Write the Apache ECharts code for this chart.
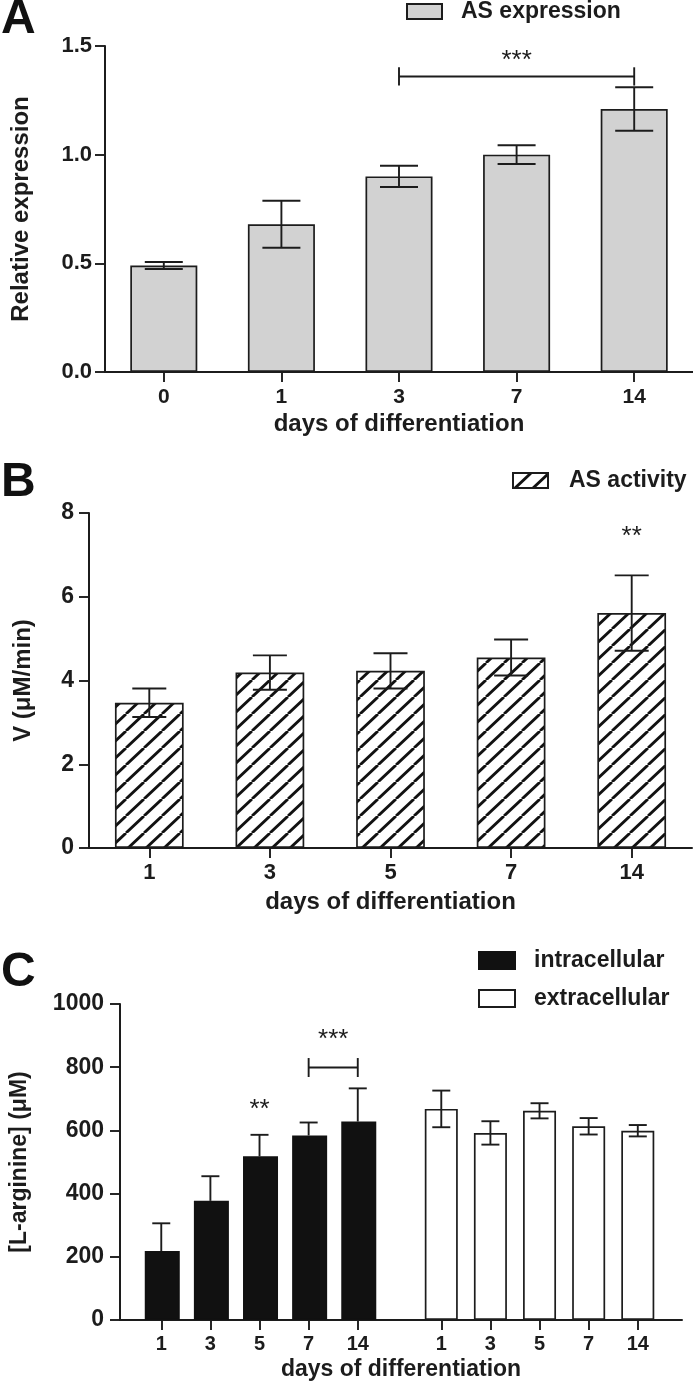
<!DOCTYPE html>
<html><head><meta charset="utf-8">
<script src="https://cdn.jsdelivr.net/npm/echarts@6/dist/echarts.min.js"></script>
<style>html,body{margin:0;padding:0;background:#fff}#c{width:693px;height:1382px}</style>
</head><body><div id="c"></div>
<script>
// ---------- Panel A: AS expression ----------
const daysA = ['0', '1', '3', '7', '14'];
const asExpression = [0.49, 0.68, 0.90, 1.00, 1.21];
const asExpressionErr = [0.016, 0.108, 0.049, 0.043, 0.100];
const sigA = [{ from: 2, to: 4, y: 1.36, tick: 0.042, text: '***', textY: 1.43 }];

// ---------- Panel B: AS activity ----------
const daysB = ['1', '3', '5', '7', '14'];
const asActivity = [3.47, 4.19, 4.23, 4.55, 5.61];
const asActivityErr = [0.34, 0.41, 0.42, 0.43, 0.90];
const sigB = [{ from: 4, to: 4, text: '**', textY: 7.42 }];

// ---------- Panel C: L-arginine ----------
const daysC = ['1', '3', '5', '7', '14'];
const intracellular = [218, 377, 518, 584, 628];
const intracellularErr = [88, 78, 68, 41, 105];
const extracellular = [668, 592, 662, 613, 599];
const extracellularErr = [58, 37, 24, 26, 18];

// layout of the two groups on panel C's x axis (one unit = one bar slot)
const C_START = [0.84, 6.54];
const C_MAX = 11.44;
const posC = (g, i) => C_START[g] + i;
const posIntra = daysC.map((d, i) => posC(0, i));
const posExtra = daysC.map((d, i) => posC(1, i));
const allPosC = posIntra.concat(posExtra);
const sigC = [
  { from: posIntra[2], to: posIntra[2], text: '**', textY: 666 },
  { from: posIntra[3], to: posIntra[4], y: 799, tick: 30, text: '***', textY: 887 }
];

const FONT = "'Liberation Sans', Arial, sans-serif";
const INK = '#1c1c1c';

function hatch() {
  const w = 18, h = 17;
  const c = document.createElement('canvas'); c.width = w; c.height = h;
  const g = c.getContext('2d');
  g.fillStyle = '#fff'; g.fillRect(0, 0, w, h);
  g.strokeStyle = '#111'; g.lineWidth = 2.8;
  for (const dx of [-w, 0, w]) { g.beginPath(); g.moveTo(dx, h); g.lineTo(dx + w, 0); g.stroke(); }
  return c;
}

function errorBar(cap, upOnly) {
  return function (params, api) {
    const x = api.value(0), m = api.value(1), e = api.value(2);
    const hi = api.coord([x, m + e]);
    const lo = api.coord([x, upOnly ? m : m - e]);
    const style = { stroke: INK, lineWidth: 1.9 };
    const ch = [
      { type: 'line', shape: { x1: hi[0], y1: hi[1], x2: lo[0], y2: lo[1] }, style },
      { type: 'line', shape: { x1: hi[0] - cap, y1: hi[1], x2: hi[0] + cap, y2: hi[1] }, style }
    ];
    if (!upOnly) ch.push({ type: 'line', shape: { x1: lo[0] - cap, y1: lo[1], x2: lo[0] + cap, y2: lo[1] }, style });
    return { type: 'group', children: ch };
  };
}

function sigRender(list) {
  return function (params, api) {
    const s = list[params.dataIndex];
    const children = [];
    const style = { stroke: INK, lineWidth: 1.9 };
    if (s.from !== s.to) {
      const a = api.coord([s.from, s.y]), b = api.coord([s.to, s.y]);
      const up = api.coord([s.from, s.y + s.tick])[1], dn = api.coord([s.from, s.y - s.tick])[1];
      children.push({ type: 'line', shape: { x1: a[0], y1: a[1], x2: b[0], y2: b[1] }, style });
      children.push({ type: 'line', shape: { x1: a[0], y1: up, x2: a[0], y2: dn }, style });
      children.push({ type: 'line', shape: { x1: b[0], y1: up, x2: b[0], y2: dn }, style });
    }
    const t = api.coord([(s.from + s.to) / 2, s.textY]);
    children.push({ type: 'text', style: { text: s.text, x: t[0], y: t[1], textAlign: 'center', textVerticalAlign: 'middle', font: '26px ' + FONT, fill: INK } });
    return { type: 'group', children };
  };
}

const axisLine = { show: true, lineStyle: { color: INK, width: 2 } };
const axisTick = { show: true, length: 10, lineStyle: { color: INK, width: 1.9 } };
const tickLabel = (size) => ({ color: INK, fontWeight: 'bold', fontSize: size, fontFamily: FONT });
const nameStyle = (size) => ({ color: INK, fontWeight: 'bold', fontSize: size, fontFamily: FONT });

const chart = echarts.init(document.getElementById('c'), null, { renderer: 'canvas' });
chart.setOption({
  backgroundColor: '#fff',
  animation: false,
  graphic: [
    { type: 'text', left: 1, top: -4, style: { text: 'A', font: 'bold 48px ' + FONT, fill: '#111' } },
    { type: 'text', left: 1, top: 459, style: { text: 'B', font: 'bold 48px ' + FONT, fill: '#111' } },
    { type: 'text', left: 1, top: 949, style: { text: 'C', font: 'bold 48px ' + FONT, fill: '#111' } }
  ],
  legend: [
    { data: ['AS expression'], left: 406, top: 0, padding: 0, itemWidth: 35, itemHeight: 15, icon: 'rect',
      textStyle: { fontSize: 23, fontWeight: 'bold', fontFamily: FONT, color: INK, padding: [0, 0, 0, 14] } },
    { data: ['AS activity'], left: 512, top: 469, padding: 0, itemWidth: 35, itemHeight: 15, icon: 'rect',
      textStyle: { fontSize: 23, fontWeight: 'bold', fontFamily: FONT, color: INK, padding: [0, 0, 0, 16] } },
    { data: ['intracellular', 'extracellular'], orient: 'vertical', left: 478, top: 949, padding: 0, itemGap: 15,
      itemWidth: 36, itemHeight: 17, icon: 'rect',
      textStyle: { fontSize: 23, fontWeight: 'bold', fontFamily: FONT, color: INK, padding: [0, 0, 0, 14] } }
  ],
  grid: [
    { left: 105, top: 46, width: 588, height: 326 },
    { left: 89, top: 513, width: 603, height: 335 },
    { left: 110, top: 1004, width: 572, height: 318 }
  ],
  xAxis: [
    { gridIndex: 0, type: 'category', data: daysA, axisLine, axisTick: Object.assign({ alignWithLabel: true }, axisTick),
      axisLabel: Object.assign({ margin: 15 }, tickLabel(21)),
      name: 'days of differentiation', nameLocation: 'middle', nameGap: 40, nameTextStyle: nameStyle(24) },
    { gridIndex: 1, type: 'category', data: daysB, axisLine, axisTick: Object.assign({ alignWithLabel: true }, axisTick),
      axisLabel: Object.assign({ margin: 14 }, tickLabel(22)),
      name: 'days of differentiation', nameLocation: 'middle', nameGap: 42, nameTextStyle: nameStyle(24) },
    { gridIndex: 2, type: 'value', min: 0, max: C_MAX, axisLine, splitLine: { show: false },
      axisTick: Object.assign({ customValues: allPosC }, axisTick),
      axisLabel: Object.assign({ margin: 14, customValues: allPosC,
        formatter: v => { const i = allPosC.findIndex(p => Math.abs(p - v) < 1e-6); return i < 0 ? '' : daysC[i % 5]; } }, tickLabel(20)),
      name: 'days of differentiation', nameLocation: 'middle', nameGap: 38, nameTextStyle: nameStyle(23) }
  ],
  yAxis: [
    { gridIndex: 0, type: 'value', min: 0, max: 1.5, interval: 0.5, axisLine, axisTick, splitLine: { show: false },
      axisLabel: Object.assign({ margin: 13, formatter: v => v.toFixed(1) }, tickLabel(22)),
      name: 'Relative expression', nameLocation: 'middle', nameGap: 72, nameTextStyle: nameStyle(24) },
    { gridIndex: 1, type: 'value', min: 0, max: 8, interval: 2, axisLine, axisTick, splitLine: { show: false },
      axisLabel: Object.assign({ margin: 15 }, tickLabel(23)),
      name: 'V (\u03bcM/min)', nameLocation: 'middle', nameGap: 54, nameTextStyle: nameStyle(24) },
    { gridIndex: 2, type: 'value', min: 0, max: 1000, interval: 200, axisLine, axisTick, splitLine: { show: false },
      axisLabel: Object.assign({ margin: 16, formatter: v => String(v) }, tickLabel(23)),
      name: '[L-arginine] (\u03bcM)', nameLocation: 'middle', nameGap: 89, nameTextStyle: nameStyle(23) }
  ],
  series: [
    { name: 'AS expression', type: 'bar', xAxisIndex: 0, yAxisIndex: 0, data: asExpression, barWidth: '57%',
      itemStyle: { color: '#d2d2d2', borderColor: INK, borderWidth: 1.7 } },
    { type: 'custom', xAxisIndex: 0, yAxisIndex: 0, z: 5, renderItem: errorBar(19),
      data: asExpression.map((v, i) => [i, v, asExpressionErr[i]]) },
    { type: 'custom', xAxisIndex: 0, yAxisIndex: 0, z: 5, renderItem: sigRender(sigA),
      data: sigA.map(s => [s.from, s.to, s.textY]) },

    { name: 'AS activity', type: 'bar', xAxisIndex: 1, yAxisIndex: 1, data: asActivity, barWidth: '57%',
      itemStyle: { color: { image: hatch(), repeat: 'repeat' }, borderColor: INK, borderWidth: 1.7 } },
    { type: 'custom', xAxisIndex: 1, yAxisIndex: 1, z: 5, renderItem: errorBar(17),
      data: asActivity.map((v, i) => [i, v, asActivityErr[i]]) },
    { type: 'custom', xAxisIndex: 1, yAxisIndex: 1, z: 5, renderItem: sigRender(sigB),
      data: sigB.map(s => [s.from, s.to, s.textY]) },

    { name: 'intracellular', type: 'bar', xAxisIndex: 2, yAxisIndex: 2, barWidth: 35, barGap: '-100%',
      data: intracellular.map((v, i) => [posIntra[i], v]),
      itemStyle: { color: '#111', borderColor: '#111', borderWidth: 1.5 } },
    { name: 'extracellular', type: 'bar', xAxisIndex: 2, yAxisIndex: 2, barWidth: 33, barGap: '-100%',
      data: extracellular.map((v, i) => [posExtra[i], v]),
      itemStyle: { color: '#fff', borderColor: INK, borderWidth: 1.7 } },
    { type: 'custom', xAxisIndex: 2, yAxisIndex: 2, z: 5, renderItem: errorBar(9, true),
      data: intracellular.map((v, i) => [posIntra[i], v, intracellularErr[i]]) },
    { type: 'custom', xAxisIndex: 2, yAxisIndex: 2, z: 5, renderItem: errorBar(9, false),
      data: extracellular.map((v, i) => [posExtra[i], v, extracellularErr[i]]) },
    { type: 'custom', xAxisIndex: 2, yAxisIndex: 2, z: 5, renderItem: sigRender(sigC),
      data: sigC.map(s => [s.from, s.to, s.textY]) }
  ]
});
</script>
</body></html>
